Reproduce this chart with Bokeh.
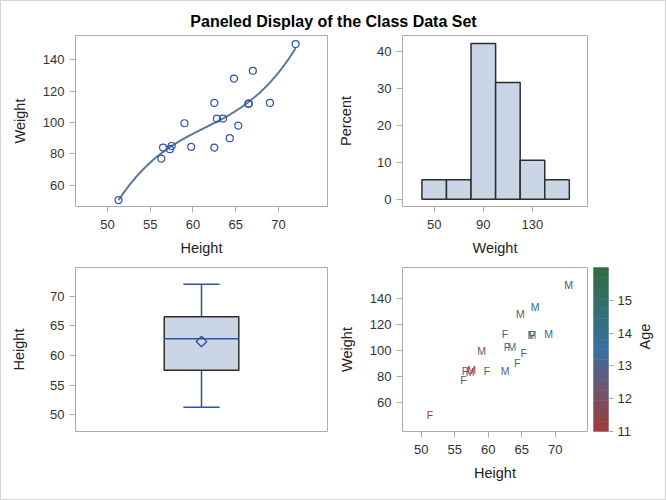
import numpy as np
from bokeh.plotting import figure
from bokeh.layouts import row, column
from bokeh.models import Range1d, FixedTicker, Label, LinearColorMapper, ColumnDataSource
from bokeh.embed import file_html
from bokeh.resources import INLINE
from bokeh.core.properties import value

# ---- SASHELP.CLASS data ----
sex = ["M", "F", "F", "F", "M", "M", "F", "F", "M", "M", "F", "F", "F", "F", "M", "M", "M", "M", "M"]
age = [14, 13, 13, 14, 14, 12, 12, 15, 13, 12, 11, 14, 12, 15, 16, 12, 15, 11, 15]
height = [69.0, 56.5, 65.3, 62.8, 63.5, 57.3, 59.8, 62.5, 62.5, 59.0, 51.3, 64.3, 56.3, 66.5, 72.0, 64.8, 67.0, 57.5, 66.5]
weight = [112.5, 84.0, 98.0, 102.5, 102.5, 83.0, 84.5, 112.5, 84.0, 99.5, 50.5, 90.0, 77.0, 112.0, 150.0, 128.0, 133.0, 85.0, 112.0]

hist_edges = [40, 60, 80, 100, 120, 140, 160]
height_ticks = [50, 55, 60, 65, 70]
weight_ticks = [60, 80, 100, 120, 140]
hist_xticks = [50, 90, 130]
percent_ticks = [0, 10, 20, 30, 40]
age_ticks = [11, 12, 13, 14, 15]
age_range = [11, 16]

TITLE = "Paneled Display of the Class Data Set"

FONT = "Liberation Sans"
FRAME = "#A8ACB0"
FILL = "#CAD5E5"
DARK = "#2E2E2E"
BLUE = "#2D54A8"
FITC = "#5B769B"


def make_fig(w, h, left, right, top, bottom, xr, yr, **kw):
    p = figure(width=w, height=h, x_range=xr, y_range=yr, output_backend="svg",
               toolbar_location=None, title=None, min_border_left=left,
               min_border_right=right, min_border_top=top, min_border_bottom=bottom, **kw)
    p.outline_line_color = FRAME
    p.outline_line_width = 1
    p.grid.visible = False
    p.background_fill_color = "white"
    p.border_fill_alpha = 0
    for ax in p.axis:
        ax.axis_line_color = None
        ax.major_tick_line_color = FRAME
        ax.major_tick_out = 6
        ax.major_tick_in = 0
        ax.minor_tick_line_color = None
        ax.major_label_text_font = FONT
        ax.major_label_text_font_size = "13px"
        ax.major_label_text_color = "#333333"
        ax.major_label_standoff = 5
        ax.axis_label_text_font = FONT
        ax.axis_label_text_font_size = "14.5px"
        ax.axis_label_text_font_style = "normal"
        ax.axis_label_text_color = "#222222"
    for ax in p.xaxis:
        ax.major_label_standoff = 7
        ax.axis_label_standoff = 8
    return p


# ---- title strip ----
pt = figure(width=666, height=32, x_range=Range1d(0, 1), y_range=Range1d(0, 32),
            output_backend="svg", toolbar_location=None, title=None,
            x_axis_location=None, y_axis_location=None, min_border=0)
pt.outline_line_color = None
pt.grid.visible = False
pt.background_fill_alpha = 0
pt.border_fill_alpha = 0
pt.add_layout(Label(x=0.5, y=11, text=TITLE, text_align="center", text_baseline="middle",
                    text_font=FONT, text_font_size="16px", text_font_style="bold",
                    text_color="#000000"))

# ---- panel 1: scatter + fit ----
p1 = make_fig(333, 226, 75, 6, 3, 52, Range1d(46.26, 75.73), Range1d(46.4, 155.5))
p1.xaxis.ticker = FixedTicker(ticks=height_ticks)
p1.yaxis.ticker = FixedTicker(ticks=weight_ticks)
p1.xaxis.axis_label = "Height"
p1.yaxis.axis_label = "Weight"
p1.yaxis.axis_label_standoff = 12
coef = np.polyfit(height, weight, 3)
xs = np.linspace(min(height), max(height), 200)
p1.line(xs, np.polyval(coef, xs), line_color=FITC, line_width=2)
p1.scatter(height, weight, marker="circle", size=7, fill_color=None, line_color=BLUE, line_width=1.2)

# ---- panel 2: histogram ----
counts, _ = np.histogram(weight, bins=hist_edges)
pct = counts / counts.sum() * 100
p2 = make_fig(333, 226, 69, 79, 3, 52, Range1d(24.2, 174.8), Range1d(-1.98, 44.3))
p2.xaxis.ticker = FixedTicker(ticks=hist_xticks)
p2.yaxis.ticker = FixedTicker(ticks=percent_ticks)
p2.xaxis.axis_label = "Weight"
p2.yaxis.axis_label = "Percent"
p2.yaxis.axis_label_standoff = 20
p2.quad(left=hist_edges[:-1], right=hist_edges[1:], bottom=0, top=pct,
        fill_color=FILL, line_color=DARK, line_width=1.5)

# ---- panel 3: box plot ----
h = np.array(height)
q1 = np.percentile(h, 25, method="inverted_cdf")
med = np.percentile(h, 50, method="inverted_cdf")
q3 = np.percentile(h, 75, method="inverted_cdf")
mn = h.mean()
lo, hi = h.min(), h.max()
p3 = make_fig(333, 242, 75, 6, 9, 62, Range1d(0, 1), Range1d(47.2, 74.8))
p3.xaxis.visible = False
p3.yaxis.ticker = FixedTicker(ticks=height_ticks)
p3.yaxis.axis_label = "Height"
p3.yaxis.axis_label_standoff = 20
p3.segment(x0=[0.5, 0.5], y0=[q3, q1], x1=[0.5, 0.5], y1=[hi, lo], line_color=BLUE, line_width=1.5)
p3.segment(x0=[0.428, 0.428], y0=[hi, lo], x1=[0.572, 0.572], y1=[hi, lo], line_color=BLUE, line_width=1.5)
p3.quad(left=[0.352], right=[0.648], bottom=[q1], top=[q3], fill_color=FILL, line_color=DARK, line_width=1.5)
p3.segment(x0=[0.352], y0=[med], x1=[0.648], y1=[med], line_color=BLUE, line_width=1.5)
p3.scatter([0.5], [mn], marker="square", angle=np.pi / 4, size=7.5, fill_color=None,
           line_color=BLUE, line_width=1.4)

# ---- panel 4: text scatter coloured by age ----
c_start, c_mid, c_end = np.array([161, 58, 58]), np.array([58, 111, 160]), np.array([46, 110, 60])
nb = 16
palette = []
for i in range(nb):
    t = (i + 0.5) / nb
    if t < 0.5:
        c = c_start + (c_mid - c_start) * (t / 0.5)
    else:
        c = c_mid + (c_end - c_mid) * ((t - 0.5) / 0.5)
    palette.append("#%02x%02x%02x" % tuple(int(round(v)) for v in c))
mapper = LinearColorMapper(palette=palette, low=age_range[0], high=age_range[1])

p4 = make_fig(260, 242, 69, 6, 9, 61, Range1d(47.2, 74.8), Range1d(37.8, 163.4))
p4.xaxis.ticker = FixedTicker(ticks=height_ticks)
p4.yaxis.ticker = FixedTicker(ticks=weight_ticks)
p4.xaxis.axis_label = "Height"
p4.yaxis.axis_label = "Weight"
p4.yaxis.axis_label_standoff = 12
src = ColumnDataSource(dict(x=height, y=weight, t=sex, a=age))
p4.text(x="x", y="y", text="t", source=src, text_align="center", text_baseline="middle",
        text_font=value(FONT), text_font_size="10.5px",
        text_color={"field": "a", "transform": mapper})

# ---- colour bar ----
cb = make_fig(73, 242, 0, 58, 9, 69, Range1d(0, 1), Range1d(age_range[0], age_range[1]),
              x_axis_location=None, y_axis_location="right")
cb.yaxis.ticker = FixedTicker(ticks=age_ticks)
cb.yaxis.major_tick_out = 5
cb.yaxis.major_label_standoff = 4
cb.yaxis.axis_label = "Age"
cb.yaxis.axis_label_standoff = 10
ax_cb = cb.yaxis[0]
if "axis_label_orientation" in ax_cb.properties():
    ax_cb.axis_label_orientation = np.pi / 2
step = (age_range[1] - age_range[0]) / nb
cb.quad(left=0, right=1, bottom=[age_range[0] + i * step for i in range(nb)],
        top=[age_range[0] + (i + 1) * step for i in range(nb)], fill_color=palette,
        line_color=palette, line_width=0.5)

layout = column(pt, row(p1, p2), row(p3, p4, cb),
                styles={"box-shadow": "inset 0 0 0 1px #d4d4d4", "background-color": "white"})

open("out.html", "w").write(file_html(layout, INLINE))
